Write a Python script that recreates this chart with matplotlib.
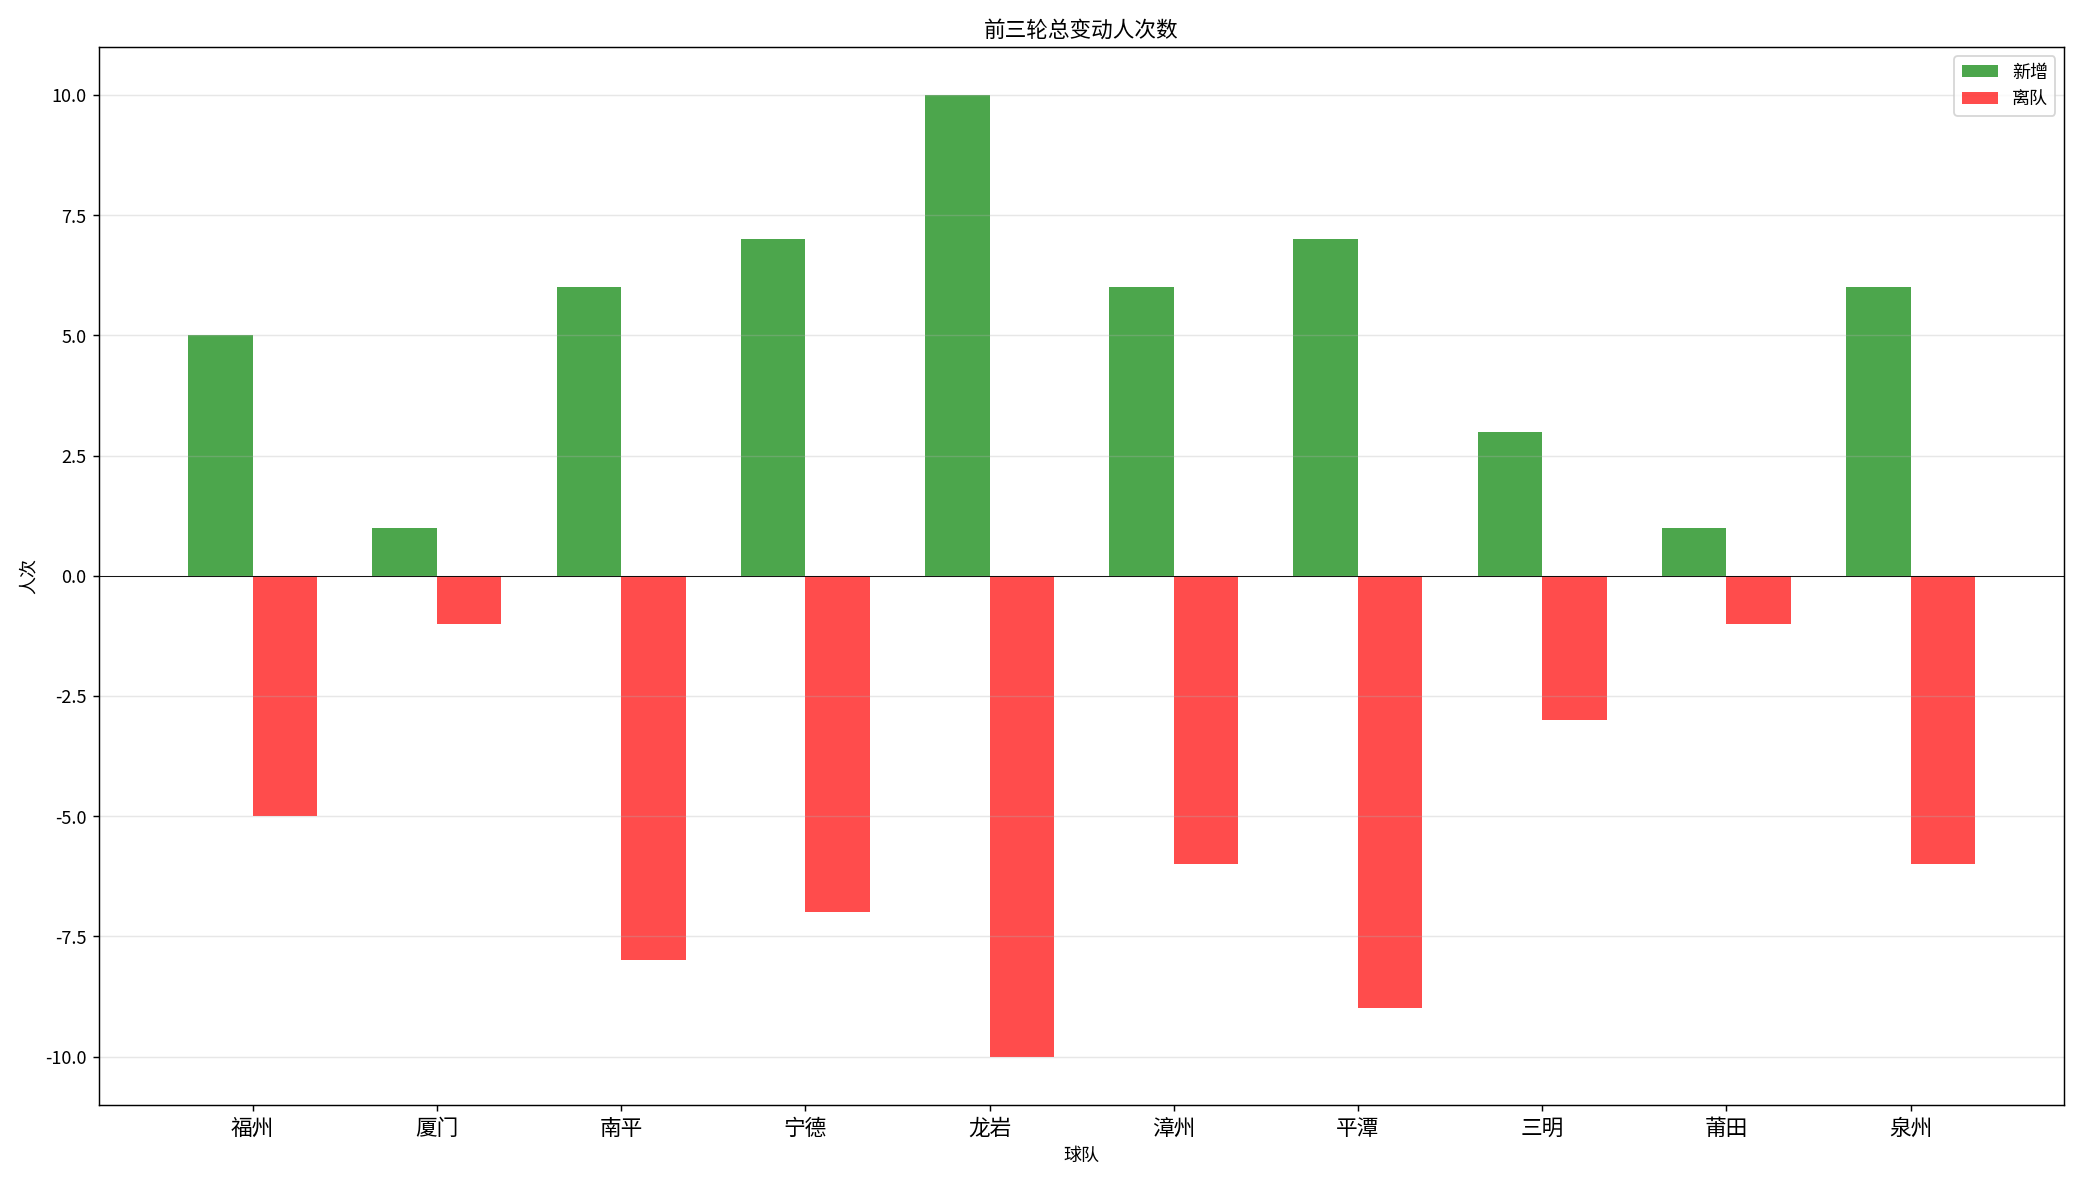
import matplotlib
matplotlib.use("Agg")
import matplotlib.pyplot as plt
import numpy as np

plt.rcParams["font.family"] = ["Noto Sans CJK SC", "DejaVu Sans"]
plt.rcParams["axes.unicode_minus"] = False

teams = ["福州", "厦门", "南平", "宁德", "龙岩", "漳州", "平潭", "三明", "莆田", "泉州"]
added = [5, 1, 6, 7, 10, 6, 7, 3, 1, 6]
left = [-5, -1, -8, -7, -10, -6, -9, -3, -1, -6]

x = np.arange(len(teams))
width = 0.35

fig, ax = plt.subplots(figsize=(16.03, 9.11), dpi=130)
ax.bar(x - width / 2, added, width, color="green", alpha=0.7, label="新增")
ax.bar(x + width / 2, left, width, color="red", alpha=0.7, label="离队")
ax.axhline(0, color="black", linewidth=0.5)
ax.set_xticks(x)
ax.set_xticklabels(teams, fontsize=12)
ax.set_xlabel("球队")
ax.set_ylabel("人次")
ax.set_title("前三轮总变动人次数")
ax.grid(axis="y", alpha=0.3)
ax.legend(loc="upper right")
fig.tight_layout()
fig.savefig("out.png")
